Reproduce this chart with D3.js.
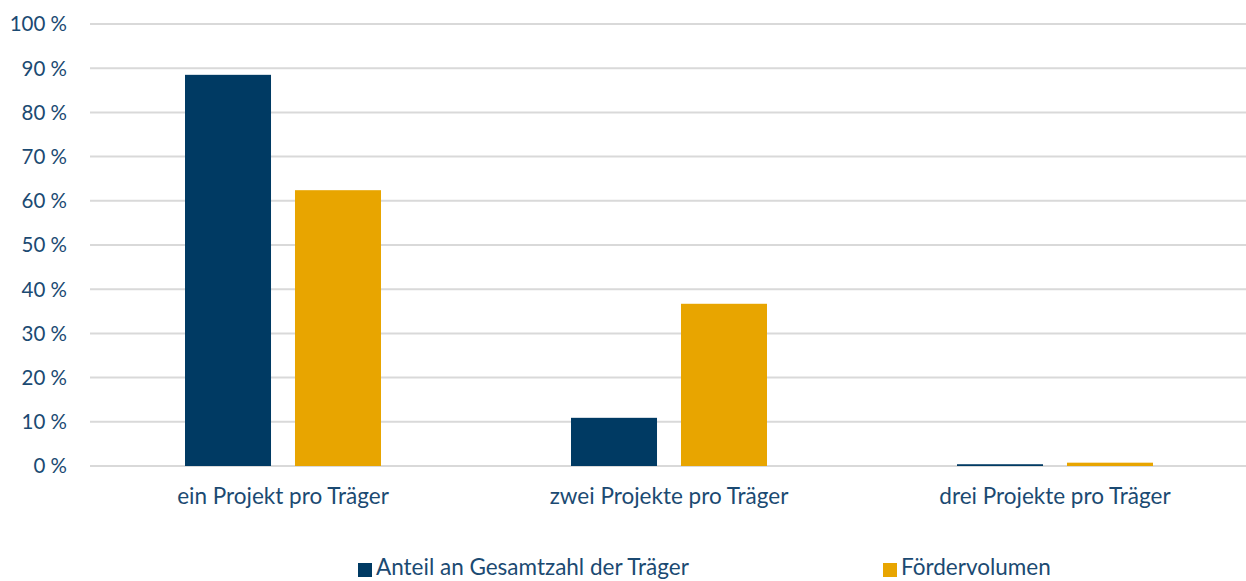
<!DOCTYPE html>
<html>
<head>
<meta charset="utf-8">
<script src="https://cdn.jsdelivr.net/npm/d3@7"></script>
<style>
  body { margin: 0; background: #fff; }
  svg text { font-family: Lato, "Liberation Sans", sans-serif; fill: #1b4a72; }
</style>
</head>
<body>
<div id="chart"></div>
<script>
var width = 1246;
var height = 581;

var categories = ["ein Projekt pro Träger", "zwei Projekte pro Träger", "drei Projekte pro Träger"];
var seriesNames = ["Anteil an Gesamtzahl der Träger", "Fördervolumen"];
var anteil = [88.5, 10.9, 0.4];
var foerder = [62.4, 36.7, 0.75];
var yTicks = [0, 10, 20, 30, 40, 50, 60, 70, 80, 90, 100];
var colors = ["#003a63", "#e8a500"];

var rows = categories.map(function(c, i) {
  return { cat: c, values: [anteil[i], foerder[i]] };
});

var svg = d3.select("#chart").append("svg")
    .attr("width", width)
    .attr("height", height);

var x0 = d3.scaleBand()
    .domain(categories)
    .range([90, 1248]);

var x1 = d3.scaleBand()
    .domain(seriesNames)
    .range([95, 291])
    .paddingInner(0.218);

var y = d3.scaleLinear()
    .domain([0, 100])
    .range([466, 24]);

// gridlines
svg.append("g")
  .selectAll("line")
  .data(yTicks)
  .join("line")
    .attr("x1", 90)
    .attr("x2", width)
    .attr("y1", d => y(d))
    .attr("y2", d => y(d))
    .attr("stroke", "#d9d9d9")
    .attr("stroke-width", 2);

// y labels
svg.append("g")
  .selectAll("text")
  .data(yTicks)
  .join("text")
    .attr("x", 67)
    .attr("y", d => y(d))
    .attr("dy", "0.36em")
    .attr("text-anchor", "end")
    .style("font-size", "20.5px")
    .text(d => d + " %");

// bars
var group = svg.append("g")
  .selectAll("g")
  .data(rows)
  .join("g")
    .attr("transform", d => `translate(${x0(d.cat)},0)`);

group.selectAll("rect")
  .data(d => d.values.map((v, i) => ({ key: seriesNames[i], value: v, i: i })))
  .join("rect")
    .attr("x", d => x1(d.key))
    .attr("width", x1.bandwidth())
    .attr("y", d => y(d.value))
    .attr("height", d => y(0) - y(d.value))
    .attr("fill", d => colors[d.i]);

// category labels
svg.append("g")
  .selectAll("text")
  .data(categories)
  .join("text")
    .attr("x", d => x0(d) + 193)
    .attr("y", 504)
    .attr("text-anchor", "middle")
    .style("font-size", "22.5px")
    .text(d => d);

// legend
var legendX = [358, 883];
var legend = svg.append("g")
  .selectAll("g")
  .data(seriesNames)
  .join("g")
    .attr("transform", (d, i) => `translate(${legendX[i]},563)`);

legend.append("rect")
    .attr("width", 14)
    .attr("height", 14)
    .attr("fill", (d, i) => colors[i]);

legend.append("text")
    .attr("x", 18)
    .attr("y", 12)
    .style("font-size", "22.5px")
    .text(d => d);
</script>
</body>
</html>
